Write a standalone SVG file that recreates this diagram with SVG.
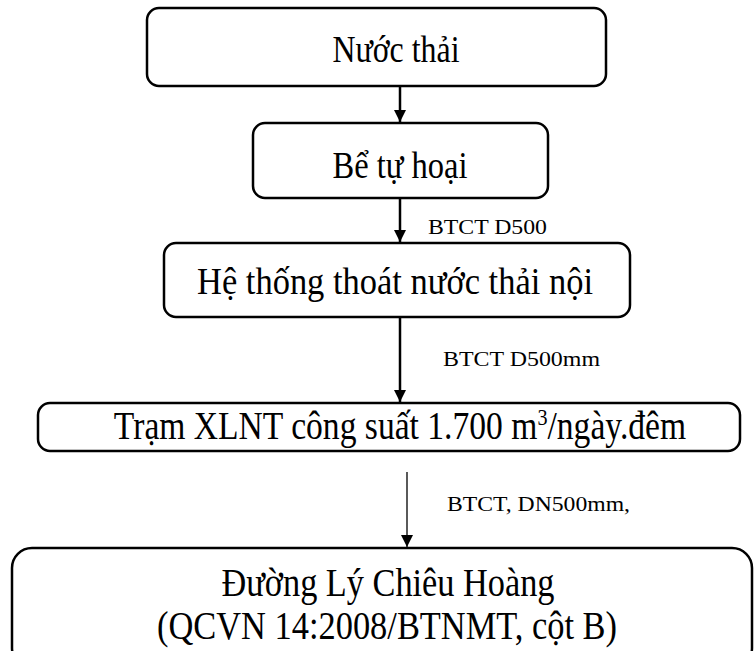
<svg xmlns="http://www.w3.org/2000/svg" width="754" height="651" viewBox="0 0 754 651">
<style>
.box{fill:#fff;stroke:#000;stroke-width:2.5}
.t{font-family:"Liberation Serif","Times New Roman",serif;fill:#000;text-anchor:middle}
.lbl{font-family:"Liberation Serif","Times New Roman",serif;fill:#000;font-size:22px}
.ln{stroke:#000;stroke-width:2.5;fill:none}
.ln2{stroke:#000;stroke-width:1.3;fill:none}
</style>
<defs>
<marker id="ah2" viewBox="0 0 10 10" refX="10" refY="5" markerWidth="12" markerHeight="12" markerUnits="userSpaceOnUse" orient="auto"><path d="M0,0 L10,5 L0,10 z" fill="#000"/></marker>
</defs>
<g id="connectors">
<line class="ln" x1="400" y1="87" x2="400" y2="122" marker-end="url(#ah2)"/>
<line class="ln" x1="400" y1="199" x2="400" y2="242" marker-end="url(#ah2)"/>
<line class="ln" x1="400" y1="318" x2="400" y2="402" marker-end="url(#ah2)"/>
<line class="ln2" x1="407" y1="472" x2="407" y2="547" marker-end="url(#ah2)"/>
<text class="lbl" x="428" y="234" textLength="119" lengthAdjust="spacingAndGlyphs">BTCT D500</text>
<text class="lbl" x="443" y="366" textLength="157" lengthAdjust="spacingAndGlyphs">BTCT D500mm</text>
<text class="lbl" x="447" y="511" textLength="183" lengthAdjust="spacingAndGlyphs">BTCT, DN500mm,</text>
</g>
<g id="n1">
<rect class="box" x="147" y="8" width="459" height="78" rx="12"/>
<text class="t" x="396" y="62" font-size="37" textLength="127" lengthAdjust="spacingAndGlyphs">Nước thải</text>
</g>
<g id="n2">
<rect class="box" x="253" y="123" width="295" height="75" rx="12"/>
<text class="t" x="400" y="178" font-size="37" textLength="135" lengthAdjust="spacingAndGlyphs">Bể tự hoại</text>
</g>
<g id="n3">
<rect class="box" x="164" y="243" width="466" height="74" rx="12"/>
<text class="t" x="395" y="294" font-size="37" textLength="396" lengthAdjust="spacingAndGlyphs">Hệ thống thoát nước thải nội</text>
</g>
<g id="n4">
<rect class="box" x="38" y="403" width="702" height="48" rx="12"/>
<text class="t" transform="translate(400,439) scale(0.84,1)" x="0" y="0" font-size="40">Trạm XLNT công suất 1.700 m<tspan dy="-14" font-size="24">3</tspan><tspan dy="14">/ngày.đêm</tspan></text>
</g>
<g id="n5">
<rect class="box" x="12" y="548" width="740" height="120" rx="20"/>
<text class="t" x="388" y="596" font-size="40" textLength="333" lengthAdjust="spacingAndGlyphs">Đường Lý Chiêu Hoàng</text>
<text class="t" x="387" y="639" font-size="40" textLength="460" lengthAdjust="spacingAndGlyphs">(QCVN 14:2008/BTNMT, cột B)</text>
</g>
</svg>
